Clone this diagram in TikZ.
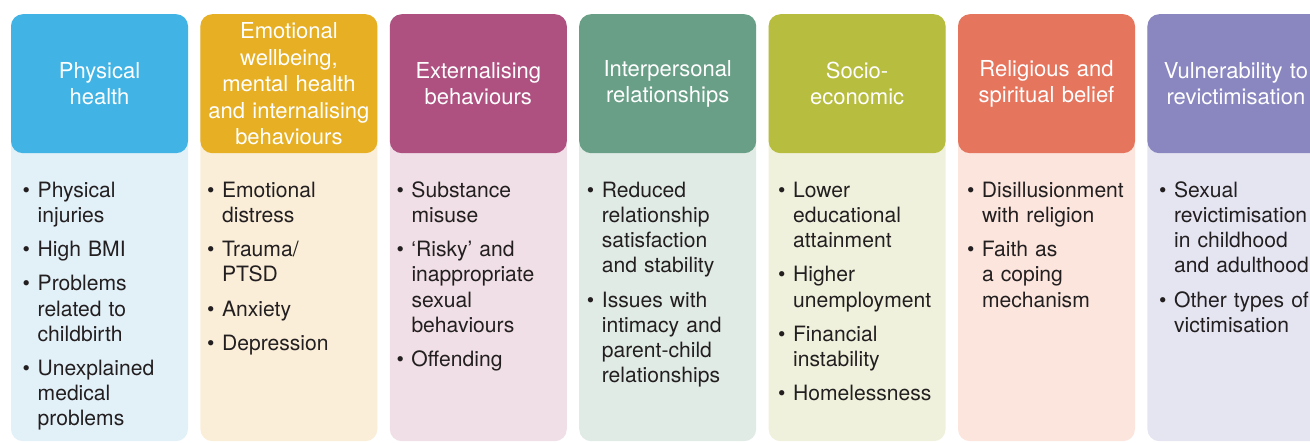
\documentclass[tikz,border=0pt]{standalone}
\usepackage{fontspec}
\setmainfont{TeX Gyre Heros}
\usepackage{tikz}
\usetikzlibrary{positioning}
\definecolor{ink}{RGB}{35, 31, 32}
\definecolor{physhead}{RGB}{65, 180, 229}
\definecolor{physbg}{RGB}{226, 240, 248}
\definecolor{emohead}{RGB}{230, 175, 36}
\definecolor{emobg}{RGB}{250, 238, 217}
\definecolor{exthead}{RGB}{174, 81, 128}
\definecolor{extbg}{RGB}{240, 223, 230}
\definecolor{interhead}{RGB}{106, 159, 135}
\definecolor{interbg}{RGB}{225, 235, 230}
\definecolor{sochead}{RGB}{183, 189, 62}
\definecolor{socbg}{RGB}{240, 241, 221}
\definecolor{relhead}{RGB}{230, 117, 94}
\definecolor{relbg}{RGB}{251, 229, 221}
\definecolor{vulnhead}{RGB}{137, 134, 192}
\definecolor{vulnbg}{RGB}{229, 229, 242}
\newcommand{\itm}{\par\hangindent=15pt\hangafter=1\makebox[15pt][l]{\textbullet}}

\begin{document}
\begin{tikzpicture}[x = 1pt, y = 1pt, node distance = 12pt,
			panel/.style = {rounded corners = 12pt, minimum width = 177pt, minimum height = 427pt, inner sep = 0pt},
			head/.style = {rounded corners = 12pt, minimum width = 177pt, minimum height = 139pt, text width = 172pt,
				align = center, inner sep = 0pt, text = white, font = \fontsize{22}{26.5}\selectfont},
			items/.style = {text width = 165pt, align = left, inner sep = 0pt, text = ink,
				font = {\fontsize{21.1}{25.2}\selectfont\parskip=9pt\parindent=0pt}}]
			\useasboundingbox (0,0) rectangle (1310,-443);
			\clip (0,0) rectangle (1310,-443);
			% light column panels
			\node (p1) at (99.5,-14) [panel, anchor = north, fill = physbg] {};
			\node (p2) [panel, fill = emobg, right = of p1] {};
			\node (p3) [panel, fill = extbg, right = of p2] {};
			\node (p4) [panel, fill = interbg, right = of p3] {};
			\node (p5) [panel, fill = socbg, right = of p4] {};
			\node (p6) [panel, fill = relbg, right = of p5] {};
			\node (p7) [panel, fill = vulnbg, right = of p6] {};
			% coloured headings
			\node (h1) [head, fill = physhead, below = 0pt of p1.north] {Physical\\health};
			\node (h2) [head, fill = emohead, below = 0pt of p2.north] {Emotional\\wellbeing,\\mental health\\and internalising\\behaviours};
			\node (h3) [head, fill = exthead, below = 0pt of p3.north] {Externalising\\behaviours};
			\node (h4) [head, fill = interhead, below = 0pt of p4.north] {Interpersonal\\relationships};
			\node (h5) [head, fill = sochead, below = 0pt of p5.north] {Socio-\\economic};
			\node (h6) [head, fill = relhead, below = 0pt of p6.north] {Religious and\\spiritual belief};
			\node (h7) [head, fill = vulnhead, below = 0pt of p7.north] {Vulnerability to\\revictimisation};
			% bullet lists
			\node (l1) [items, below right = 9.5pt and 11.7pt of h1.south west]
				{\itm Physical\newline injuries
				\itm High BMI
				\itm Problems\newline related to\newline childbirth
				\itm Unexplained\newline medical\newline problems\par};
			\node (l2) [items, below right = 9.5pt and 6.7pt of h2.south west]
				{\itm Emotional\newline distress
				\itm Trauma/\newline PTSD
				\itm Anxiety
				\itm Depression\par};
			\node (l3) [items, below right = 9.5pt and 6.7pt of h3.south west]
				{\itm Substance\newline misuse
				\itm `Risky' and\newline inappropriate\newline sexual\newline behaviours
				\itm Offending\par};
			\node (l4) [items, below right = 9.5pt and 7.7pt of h4.south west]
				{\itm Reduced\newline relationship\newline satisfaction\newline and stability
				\itm Issues with\newline intimacy and\newline parent-child\newline relationships\par};
			\node (l5) [items, below right = 9.5pt and 9.5pt of h5.south west]
				{\itm Lower\newline educational\newline attainment
				\itm Higher\newline unemployment
				\itm Financial\newline instability
				\itm Homelessness\par};
			\node (l6) [items, below right = 9.5pt and 9pt of h6.south west]
				{\itm Disillusionment\newline with religion
				\itm Faith as\newline a coping\newline mechanism\par};
			\node (l7) [items, below right = 9.5pt and 11.7pt of h7.south west]
				{\itm Sexual\newline revictimisation\newline in childhood\newline and adulthood
				\itm Other types of\newline victimisation\par};
\end{tikzpicture}
\end{document}
